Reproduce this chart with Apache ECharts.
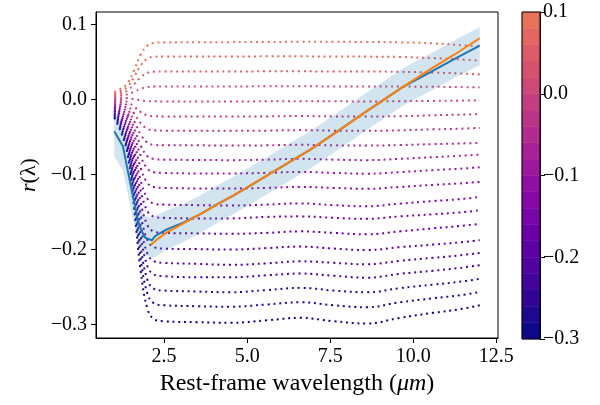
<!DOCTYPE html>
<html>
<head>
<meta charset="utf-8">
<script src="https://cdn.jsdelivr.net/npm/echarts@6/dist/echarts.min.js"></script>
<style>
  html, body { margin: 0; padding: 0; background: #fff; }
  #chart { width: 600px; height: 405px; }
</style>
</head>
<body>
<div id="chart"></div>
<script>
// Wavelength grid shared by the family of model curves (micron)
const curveX = [1.0, 1.2, 1.4, 1.6, 1.8, 2.0, 2.2, 2.5, 3.5, 4.5, 5.6, 6.6, 7.6, 8.6, 9.6, 10.6, 11.4, 12.0];

// Model curves, from the lowest (index 0) to the highest (index 19)
const curve00 = [-0.0240,-0.0430,-0.0729,-0.1462,-0.2304,-0.2793,-0.2929,-0.2956,-0.2969,-0.2977,-0.2943,-0.2911,-0.2956,-0.2987,-0.2911,-0.2844,-0.2796,-0.2743];
const curve01 = [-0.0222,-0.0398,-0.0676,-0.1356,-0.2138,-0.2592,-0.2718,-0.2743,-0.2756,-0.2763,-0.2732,-0.2703,-0.2743,-0.2770,-0.2703,-0.2650,-0.2610,-0.2566];
const curve02 = [-0.0204,-0.0368,-0.0626,-0.1258,-0.1985,-0.2406,-0.2524,-0.2547,-0.2560,-0.2570,-0.2540,-0.2511,-0.2547,-0.2570,-0.2514,-0.2467,-0.2430,-0.2391];
const curve03 = [-0.0186,-0.0338,-0.0577,-0.1163,-0.1835,-0.2226,-0.2334,-0.2356,-0.2369,-0.2369,-0.2343,-0.2320,-0.2349,-0.2376,-0.2323,-0.2283,-0.2245,-0.2209];
const curve04 = [-0.0168,-0.0309,-0.0530,-0.1072,-0.1695,-0.2056,-0.2157,-0.2177,-0.2190,-0.2204,-0.2184,-0.2157,-0.2177,-0.2197,-0.2150,-0.2110,-0.2077,-0.2044];
const curve05 = [-0.0150,-0.0279,-0.0481,-0.0977,-0.1546,-0.1877,-0.1969,-0.1987,-0.1994,-0.2000,-0.1980,-0.1960,-0.1987,-0.2007,-0.1967,-0.1934,-0.1904,-0.1875];
const curve06 = [-0.0132,-0.0247,-0.0428,-0.0872,-0.1382,-0.1678,-0.1761,-0.1777,-0.1784,-0.1790,-0.1777,-0.1757,-0.1777,-0.1797,-0.1757,-0.1717,-0.1686,-0.1657];
const curve07 = [-0.0114,-0.0216,-0.0377,-0.0772,-0.1226,-0.1489,-0.1562,-0.1577,-0.1584,-0.1584,-0.1564,-0.1557,-0.1577,-0.1590,-0.1557,-0.1530,-0.1504,-0.1477];
const curve08 = [-0.0096,-0.0187,-0.0331,-0.0683,-0.1087,-0.1322,-0.1387,-0.1400,-0.1407,-0.1413,-0.1400,-0.1384,-0.1407,-0.1423,-0.1387,-0.1353,-0.1327,-0.1297];
const curve09 = [-0.0078,-0.0155,-0.0276,-0.0573,-0.0913,-0.1111,-0.1166,-0.1177,-0.1184,-0.1184,-0.1177,-0.1164,-0.1177,-0.1190,-0.1164,-0.1137,-0.1117,-0.1097];
const curve10 = [-0.0060,-0.0124,-0.0225,-0.0473,-0.0757,-0.0922,-0.0968,-0.0977,-0.0984,-0.0984,-0.0977,-0.0964,-0.0977,-0.0988,-0.0966,-0.0940,-0.0921,-0.0902];
const curve11 = [-0.0042,-0.0095,-0.0178,-0.0383,-0.0618,-0.0755,-0.0792,-0.0800,-0.0804,-0.0807,-0.0800,-0.0789,-0.0800,-0.0807,-0.0789,-0.0767,-0.0749,-0.0733];
const curve12 = [-0.0024,-0.0065,-0.0129,-0.0287,-0.0469,-0.0574,-0.0603,-0.0609,-0.0609,-0.0613,-0.0609,-0.0602,-0.0609,-0.0613,-0.0605,-0.0593,-0.0585,-0.0577];
const curve13 = [-0.0006,-0.0034,-0.0079,-0.0189,-0.0315,-0.0389,-0.0409,-0.0413,-0.0413,-0.0416,-0.0413,-0.0406,-0.0413,-0.0416,-0.0409,-0.0396,-0.0387,-0.0377];
const curve14 = [0.0012,-0.0004,-0.0030,-0.0094,-0.0167,-0.0209,-0.0221,-0.0223,-0.0223,-0.0225,-0.0223,-0.0218,-0.0223,-0.0225,-0.0220,-0.0208,-0.0200,-0.0191];
const curve15 = [0.0030,0.0026,0.0020,0.0006,-0.0010,-0.0020,-0.0022,-0.0023,-0.0023,-0.0023,-0.0022,-0.0020,-0.0022,-0.0023,-0.0020,-0.0016,-0.0013,-0.0010];
const curve16 = [0.0048,0.0057,0.0071,0.0106,0.0146,0.0169,0.0176,0.0177,0.0177,0.0177,0.0178,0.0178,0.0177,0.0176,0.0175,0.0172,0.0168,0.0164];
const curve17 = [0.0066,0.0088,0.0122,0.0206,0.0302,0.0358,0.0374,0.0377,0.0377,0.0377,0.0378,0.0378,0.0377,0.0376,0.0372,0.0362,0.0350,0.0337];
const curve18 = [0.0084,0.0119,0.0173,0.0306,0.0459,0.0550,0.0572,0.0577,0.0577,0.0577,0.0578,0.0578,0.0577,0.0575,0.0570,0.0555,0.0538,0.0520];
const curve19 = [0.0102,0.0148,0.0221,0.0400,0.0605,0.0724,0.0757,0.0764,0.0766,0.0768,0.0770,0.0772,0.0772,0.0770,0.0765,0.0752,0.0728,0.0710];

// Measured relation (blue) and its uncertainty band
const measX  = [1.0, 1.26, 1.38, 1.58, 1.73, 1.83, 1.93, 2.13, 2.23, 2.38, 2.58, 3.08, 3.58, 4.08, 4.58, 5.08, 5.98, 6.89, 7.73, 8.51, 9.69, 10.53, 11.23, 12.0];
const measY  = [-0.042,-0.062,-0.089,-0.133,-0.164,-0.1756,-0.184,-0.1876,-0.182,-0.178,-0.173,-0.164,-0.153,-0.140,-0.128,-0.115,-0.091,-0.067,-0.042,-0.018,0.017,0.037,0.054,0.072];
const measHi = [-0.015,-0.035,-0.060,-0.105,-0.135,-0.147,-0.155,-0.158,-0.155,-0.152,-0.148,-0.139,-0.128,-0.115,-0.103,-0.090,-0.066,-0.042,-0.017,0.007,0.042,0.062,0.079,0.097];
const measLo = [-0.076,-0.094,-0.120,-0.163,-0.190,-0.200,-0.207,-0.211,-0.210,-0.206,-0.200,-0.190,-0.178,-0.165,-0.153,-0.140,-0.116,-0.092,-0.067,-0.043,-0.008,0.012,0.029,0.046];

// Linear fit (orange)
const fitX = [2.1, 2.33, 2.58, 3.08, 3.58, 4.08, 4.58, 5.08, 5.98, 6.89, 7.73, 8.51, 9.69, 10.53, 11.23, 12.0];
const fitY = [-0.194,-0.185,-0.177,-0.165,-0.153,-0.140,-0.128,-0.115,-0.091,-0.067,-0.042,-0.018,0.017,0.041,0.060,0.082];

// Colour-bar levels and tick labels
const colorLevels = [-0.30,-0.28,-0.26,-0.24,-0.22,-0.20,-0.18,-0.16,-0.14,-0.12,-0.10,-0.08,-0.06,-0.04,-0.02,0.00,0.02,0.04,0.06,0.08,0.10];
const colorTicks = [-0.3, -0.2, -0.1, 0.0, 0.1];
const xTicks = [2.5, 5.0, 7.5, 10.0, 12.5];
const yTicks = [-0.3, -0.2, -0.1, 0.0, 0.1];

const curves = [curve00,curve01,curve02,curve03,curve04,curve05,curve06,curve07,curve08,curve09,
                curve10,curve11,curve12,curve13,curve14,curve15,curve16,curve17,curve18,curve19];

// plasma colour map stops (lower part of the map is used)
const plasmaStops = [
  [0.0, [13, 8, 135]], [0.1, [65, 4, 157]], [0.2, [106, 0, 168]], [0.3, [143, 13, 164]],
  [0.4, [177, 42, 144]], [0.5, [204, 71, 120]], [0.6, [225, 100, 98]], [0.7, [242, 132, 75]]
];
function plasma(t) {
  for (let k = 0; k < plasmaStops.length - 1; k++) {
    const a = plasmaStops[k], b = plasmaStops[k + 1];
    if (t <= b[0]) {
      const f = (t - a[0]) / (b[0] - a[0]);
      const c = a[1].map((v, j) => Math.round(v + (b[1][j] - v) * f));
      return 'rgb(' + c.join(',') + ')';
    }
  }
  const c = plasmaStops[plasmaStops.length - 1][1];
  return 'rgb(' + c.join(',') + ')';
}
const nBands = colorLevels.length - 1;
const bandColors = [];
for (let i = 0; i < nBands; i++) bandColors.push(plasma(0.64 * i / (nBands - 1)));

const FONT = 'Liberation Serif';
const fmt = v => {
  if (Math.abs(v) < 1e-9) return '0.0';
  return (v < 0 ? '\u2212' : '') + Math.abs(v).toFixed(1);
};

const series = [];
curves.forEach((c, i) => {
  series.push({
    type: 'line',
    xAxisIndex: 0, yAxisIndex: 0,
    data: curveX.map((x, k) => [x, c[k]]),
    smooth: 0.4,
    showSymbol: false,
    silent: true,
    lineStyle: { color: bandColors[i], width: 2, type: [2, 3.8], cap: 'butt' },
    z: 2
  });
});

// uncertainty band as a filled polygon
series.push({
  type: 'custom',
  xAxisIndex: 0, yAxisIndex: 0,
  silent: true,
  z: 3,
  data: measX.map((x, k) => [x, measY[k]]),
  renderItem: function (params, api) {
    if (params.dataIndex !== 0) return null;
    const pts = [];
    for (let k = 0; k < measX.length; k++) pts.push(api.coord([measX[k], measHi[k]]));
    for (let k = measX.length - 1; k >= 0; k--) pts.push(api.coord([measX[k], measLo[k]]));
    return { type: 'polygon', shape: { points: pts }, style: { fill: 'rgba(31,119,180,0.2)' } };
  }
});

series.push({
  type: 'line',
  xAxisIndex: 0, yAxisIndex: 0,
  data: measX.map((x, k) => [x, measY[k]]),
  showSymbol: false, silent: true,
  lineStyle: { color: '#1f77b4', width: 2 },
  z: 4
});
series.push({
  type: 'line',
  xAxisIndex: 0, yAxisIndex: 0,
  data: fitX.map((x, k) => [x, fitY[k]]),
  showSymbol: false, silent: true,
  lineStyle: { color: '#ff7f0e', width: 2 },
  z: 5
});

// colour bar cells
series.push({
  type: 'custom',
  xAxisIndex: 1, yAxisIndex: 1,
  silent: true,
  data: colorLevels.slice(0, nBands).map((lo, i) => [lo, colorLevels[i + 1], i]),
  renderItem: function (params, api) {
    const lo = api.value(0), hi = api.value(1), idx = api.value(2);
    const p0 = api.coord([0, hi]);
    const p1 = api.coord([1, lo]);
    return {
      type: 'rect',
      shape: { x: p0[0], y: p0[1], width: p1[0] - p0[0], height: p1[1] - p0[1] },
      style: { fill: bandColors[idx], stroke: bandColors[idx], lineWidth: 0.5 }
    };
  },
  encode: { y: [0, 1] }
});

const tickLabel = { fontFamily: FONT, fontSize: 20, color: '#000' };

const option = {
  animation: false,
  backgroundColor: '#fff',
  grid: [
    { left: 96, top: 12, width: 402, height: 326, show: true, borderColor: '#000', borderWidth: 1, backgroundColor: 'transparent' },
    { left: 522, top: 12, width: 18, height: 327, show: true, borderColor: '#000', borderWidth: 1, backgroundColor: 'transparent', z: 10 }
  ],
  xAxis: [
    {
      type: 'value', gridIndex: 0, min: 0.45, max: 12.55,
      axisLine: { show: true, onZero: false, lineStyle: { color: '#000', width: 1 } },
      axisTick: { show: true, inside: false, length: 5, lineStyle: { color: '#000' }, customValues: xTicks },
      axisLabel: { ...tickLabel, margin: 9, customValues: xTicks, formatter: v => v.toFixed(1) },
      splitLine: { show: false },
      name: 'Rest-frame wavelength ({i|\u03bcm})',
      nameLocation: 'middle', nameGap: 31,
      nameTextStyle: { fontFamily: FONT, fontSize: 24, color: '#000',
        rich: { i: { fontFamily: FONT, fontSize: 24, fontStyle: 'italic', color: '#000' } } }
    },
    {
      type: 'value', gridIndex: 1, min: 0, max: 1, show: false
    }
  ],
  yAxis: [
    {
      type: 'value', gridIndex: 0, min: -0.318, max: 0.117,
      axisLine: { show: true, onZero: false, lineStyle: { color: '#000', width: 1 } },
      axisTick: { show: true, inside: false, length: 5, lineStyle: { color: '#000' }, customValues: yTicks },
      axisLabel: { ...tickLabel, margin: 9, customValues: yTicks, formatter: fmt },
      splitLine: { show: false },
      name: '{i|r}(\u03bb)',
      nameLocation: 'middle', nameGap: 56,
      nameTextStyle: { fontFamily: FONT, fontSize: 22, color: '#000',
        rich: { i: { fontFamily: FONT, fontSize: 22, fontStyle: 'italic', color: '#000' } } }
    },
    {
      type: 'value', gridIndex: 1, min: -0.3, max: 0.1, position: 'right',
      axisLine: { show: true, onZero: false, lineStyle: { color: '#000', width: 1 } },
      axisTick: { show: true, inside: false, length: 5, lineStyle: { color: '#000' }, customValues: colorTicks },
      axisLabel: { ...tickLabel, margin: 3, customValues: colorTicks, formatter: fmt },
      splitLine: { show: false }
    }
  ],
  series: series
};

const chart = echarts.init(document.getElementById('chart'), null, { renderer: 'canvas' });
chart.setOption(option);
</script>
</body>
</html>
